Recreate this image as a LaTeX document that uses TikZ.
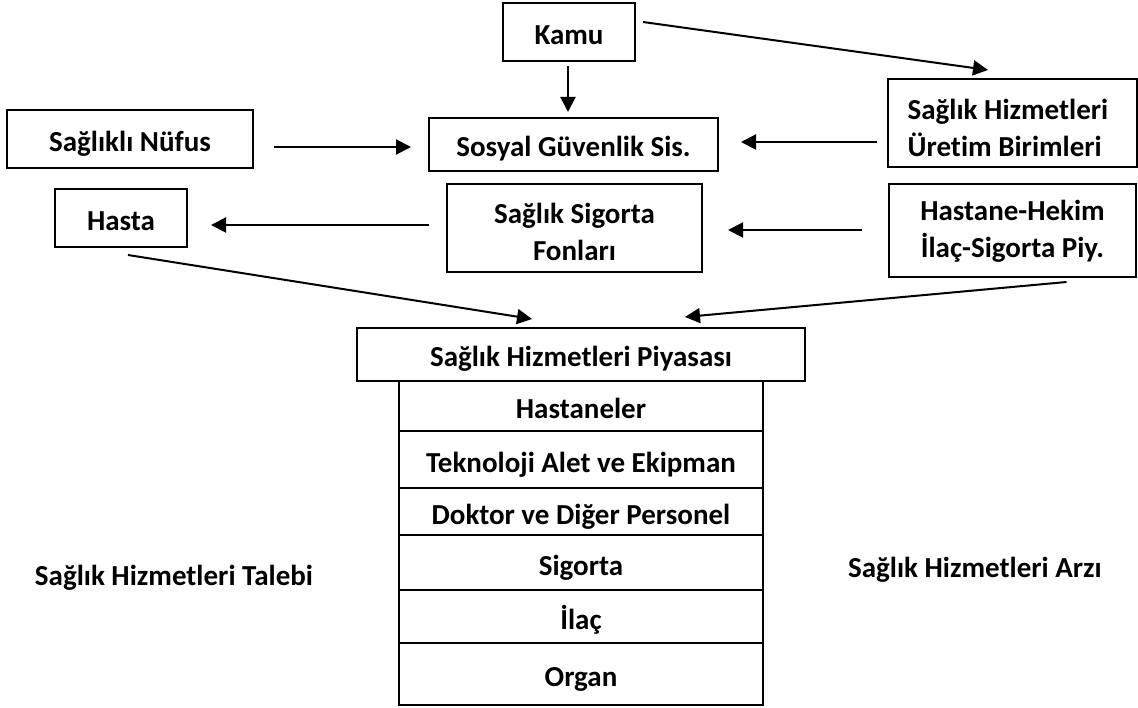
\documentclass[tikz,border=0pt]{standalone}
\usepackage{fontspec}
\setmainfont{Carlito}[Ligatures={NoCommon}]
\usetikzlibrary{arrows.meta,calc}
\tikzset{
  box/.style={draw, line width=2pt, rectangle, inner sep=0pt, align=center,
    font=\fontsize{29}{37}\selectfont\bfseries},
  onebox/.style={box, text height=25pt, text depth=0pt},
  twobox/.style={draw, line width=2pt, rectangle, inner sep=0pt},
  lbl/.style={inner sep=0pt, font=\fontsize{29}{37}\selectfont\bfseries},
  arr/.style={line width=2pt, -{Triangle[length=15pt,width=15pt]}}
}
\begin{document}
\begin{tikzpicture}[x=1pt,y=-1pt]
\useasboundingbox (0,0) rectangle (1138,708);
% boxes
\node[onebox, minimum width=132pt, minimum height=58pt] (kamu) at (569,32) {Kamu};
\node[onebox, minimum width=289pt, minimum height=53pt] (sosyal) at (573.5,144.5) {Sosyal Güvenlik Sis.};
\node[twobox, minimum width=249pt, minimum height=88pt,
  label={[lbl, align=left, yshift=-5pt, xshift=-4pt]center:Sağlık Hizmetleri\\Üretim Birimleri}] (uretim) at (1012,123) {};
\node[onebox, minimum width=246pt, minimum height=58pt] (nufus) at (130,139) {Sağlıklı Nüfus};
\node[onebox, minimum width=132pt, minimum height=58pt] (hasta) at (121,218) {Hasta};
\node[twobox, minimum width=255pt, minimum height=88pt,
  label={[lbl, align=center, yshift=-4pt]center:Sağlık Sigorta\\Fonları}] (fonlar) at (574.5,228) {};
\node[twobox, minimum width=247pt, minimum height=93pt,
  label={[lbl, align=center, yshift=-1pt]center:Hastane-Hekim\\İlaç-Sigorta Piy.}] (hastane) at (1012.5,230.5) {};
\node[onebox, minimum width=448pt, minimum height=53pt] (piyasa) at (581,354.5) {Sağlık Hizmetleri Piyasası};
% stack
\node[onebox, minimum width=364pt, minimum height=50pt] (r1) at (581,406) {Hastaneler};
\node[onebox, minimum width=364pt, minimum height=57pt] (r2) at (581,459.5) {Teknoloji Alet ve Ekipman};
\node[onebox, minimum width=364pt, minimum height=47pt] (r3) at (581,511.5) {Doktor ve Diğer Personel};
\node[onebox, minimum width=364pt, minimum height=55pt] (r4) at (581,562.5) {Sigorta};
\node[onebox, minimum width=364pt, minimum height=53pt] (r5) at (581,616.5) {İlaç};
\node[onebox, minimum width=364pt, minimum height=62pt] (r6) at (581,674) {Organ};
% side labels
\node[lbl] (talebi) at (174,578) {Sağlık Hizmetleri Talebi};
\node[lbl] (arzi) at (975,570) {Sağlık Hizmetleri Arzı};
% arrows
\draw[arr] ($(kamu.south)+(-1,4)$) -- ($(kamu.south |- sosyal.north)+(-1,-5)$);
\draw[arr] ($(kamu.east)+(7,-10)$) -- ($(uretim.north)+(-24,-8)$);
\draw[arr] ($(nufus.east)+(20,8)$) -- ($(sosyal.west)+(-17,2.5)$);
\draw[arr] ($(uretim.west)+(-10,19)$) -- ($(sosyal.east)+(22,-2.5)$);
\draw[arr] ($(fonlar.west)+(-17,-3)$) -- ($(hasta.east)+(23,7)$);
\draw[arr] ($(hastane.west)+(-26,-0.5)$) -- ($(fonlar.east)+(25,2)$);
\draw[arr] ($(hasta.south)+(7,7)$) -- ($(piyasa.north)+(-49,-8)$);
\draw[arr] ($(hastane.south)+(54,4)$) -- ($(piyasa.north)+(104,-10)$);
\end{tikzpicture}
\end{document}
